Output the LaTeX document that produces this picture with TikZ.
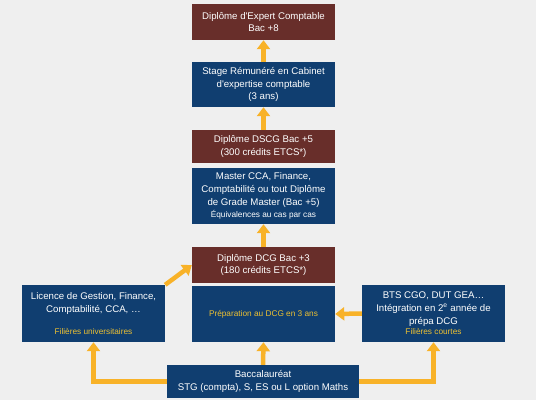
\documentclass[tikz,border=0pt]{standalone}
\usepackage{fontspec}
\setmainfont{Liberation Sans}[Ligatures=TeXOff]
\usetikzlibrary{arrows.meta}
\definecolor{bgc}{RGB}{239,239,239}
\definecolor{brownbox}{RGB}{104,46,42}
\definecolor{bluebox}{RGB}{16,62,112}
\definecolor{arrowc}{RGB}{248,178,40}
\definecolor{yellowtxt}{RGB}{236,192,50}
\tikzset{
  box/.style={draw=none, minimum width=143bp, inner sep=1bp, text=white, align=center,
    font=\fontsize{9.7}{12.8}\selectfont},
  brownb/.style={box, fill=brownbox},
  blueb/.style={box, fill=bluebox},
  arr/.style={draw=arrowc, line width=4.5bp, -{Triangle[width=13bp,length=9bp]}},
}
\newcommand{\smalltxt}{\fontsize{8.3}{11}\selectfont}
\begin{document}
\begin{tikzpicture}[x=1bp,y=-1bp]
\fill[bgc] (0,0) rectangle (536,400);
\useasboundingbox (0,0) rectangle (536,400);
\node[brownb, minimum height=36bp] (expert) at (263.5,22) {Diplôme d'Expert Comptable\\Bac +8};
\node[blueb, minimum height=45bp] (stage) at (263.5,84.5) {Stage Rémunéré en Cabinet\\d'expertise comptable\\(3 ans)};
\node[brownb, minimum height=33bp] (dscg) at (263.5,146.5) {Diplôme DSCG Bac +5\\(300 crédits ETCS*)};
\node[blueb, minimum height=56bp] (master) at (263.5,196) {Master CCA, Finance,\\Comptabilité ou tout Diplôme\\de Grade Master (Bac +5)\\{\smalltxt Équivalences au cas par cas}};
\node[brownb, minimum height=36bp] (dcg) at (263.5,265) {Diplôme DCG Bac +3\\(180 crédits ETCS*)};
\node[blueb, minimum height=56bp, text=yellowtxt] (prep) at (263.5,314) {\smalltxt Préparation au DCG en 3 ans};
\node[blueb, minimum height=57bp] (licence) at (93.5,313.5) {Licence de Gestion, Finance,\\Comptabilité, CCA, \dots\\[9bp]{\smalltxt\color{yellowtxt}Filières universitaires}};
\node[blueb, minimum height=57bp] (bts) at (433.5,313.5) {BTS CGO, DUT GEA\dots\\Intégration en 2\textsuperscript{e} année de\\prépa DCG\\[-2bp]{\smalltxt\color{yellowtxt}Filières courtes}};
\node[blueb, minimum width=192bp, minimum height=33bp] (bac) at (263,381.5) {Baccalauréat\\STG (compta), S, ES ou L option Maths};
\draw[arr] (stage.north) -- (expert.south);
\draw[arr] (dscg.north) -- (stage.south);
\draw[arr] (dcg.north) -- (master.south);
\draw[arr] (bac.north) -- (prep.south);
\draw[arr] (bts.west) -- (prep.east);
\draw[arr] (licence.north east) -- (dcg.west);
\draw[arr] (bac.west) -| (licence.south);
\draw[arr] (bac.east) -| (bts.south);
\end{tikzpicture}
\end{document}
